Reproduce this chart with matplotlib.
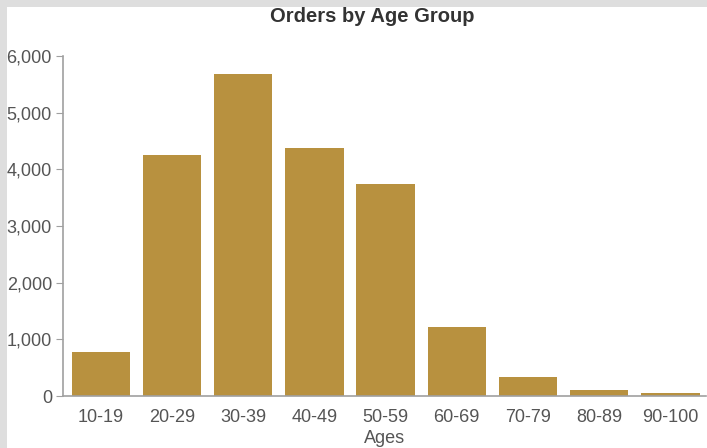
import matplotlib.pyplot as plt
from matplotlib.patches import Rectangle
from matplotlib.ticker import FuncFormatter

plt.rcParams['font.family'] = ['Liberation Sans', 'DejaVu Sans']

age_groups = ["10-19", "20-29", "30-39", "40-49", "50-59",
              "60-69", "70-79", "80-89", "90-100"]
orders = [780, 4250, 5680, 4380, 3740, 1220, 340, 100, 50]

BAR_COLOR = "#b8913f"
AXIS_GRAY = "#a0a0a0"
TEXT_GRAY = "#555555"

fig = plt.figure(figsize=(7.07, 4.48), dpi=100)
fig.patch.set_facecolor("#dedede")
# white panel, leaving a thin gray strip on the top and left
fig.patches.append(Rectangle((7 / 707, 0), 1, 1 - 7 / 448,
                             transform=fig.transFigure, facecolor="white",
                             edgecolor="none", zorder=-5))

ax = fig.add_axes([63 / 707, 52 / 448, 643 / 707, 340 / 448])
ax.set_facecolor("none")

x = range(len(age_groups))
ax.bar(x, orders, width=0.82, color=BAR_COLOR, zorder=2)

ax.set_xlim(-0.53, len(age_groups) - 0.5)
ax.set_ylim(0, 6000)
ax.set_yticks(range(0, 6001, 1000))
ax.yaxis.set_major_formatter(FuncFormatter(lambda v, _: f"{int(v):,}"))
ax.set_xticks(list(x))
ax.set_xticklabels(age_groups)

for side in ("top", "right"):
    ax.spines[side].set_visible(False)
for side in ("left", "bottom"):
    ax.spines[side].set_color(AXIS_GRAY)
    ax.spines[side].set_linewidth(1.2)

ax.tick_params(axis="y", length=5, color=AXIS_GRAY, labelsize=13,
               labelcolor=TEXT_GRAY, pad=3)
ax.tick_params(axis="x", length=0, labelsize=13, labelcolor=TEXT_GRAY, pad=9)

ax.set_xlabel("Ages", fontsize=13, color=TEXT_GRAY, labelpad=3)
fig.text(0.527, 1 - 17 / 448, "Orders by Age Group", ha="center", va="center",
         fontsize=14.5, fontweight="bold", color="#333333")

fig.savefig("out.png", dpi=100)
